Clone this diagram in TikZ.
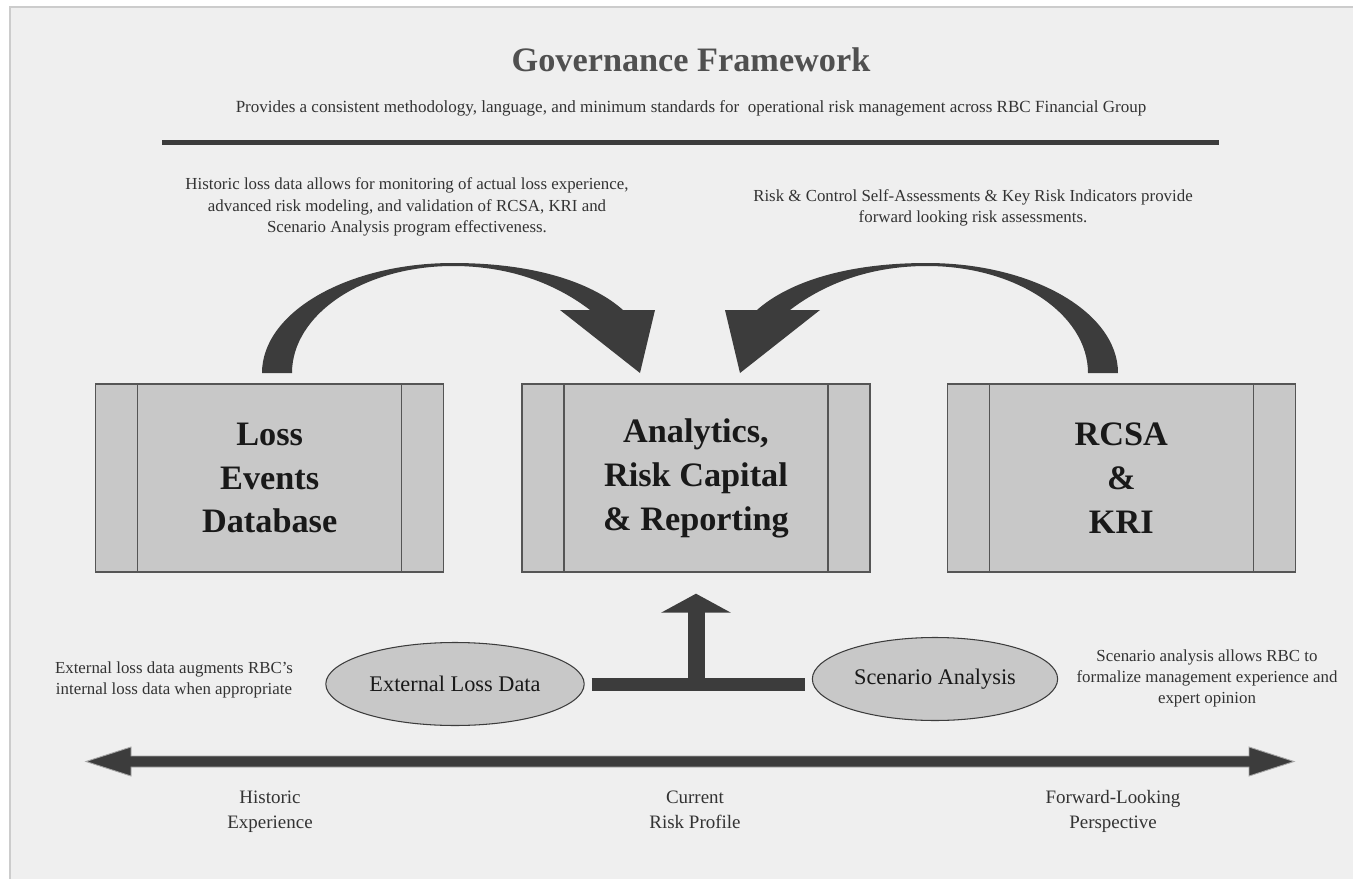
\documentclass[tikz,border=0pt]{standalone}
\usepackage{fontspec}
\setmainfont{Liberation Serif}
\usetikzlibrary{positioning,shapes.geometric,arrows.meta}

\definecolor{bggray}{HTML}{EFEFEF}
\definecolor{framegray}{HTML}{CCCCCC}
\definecolor{boxgray}{HTML}{C8C8C8}
\definecolor{edgegray}{HTML}{555555}
\definecolor{darkfill}{HTML}{3C3C3C}
\definecolor{textgray}{HTML}{333333}

\begin{document}
\begin{tikzpicture}[x=0.02cm, y=-0.02cm,
    block/.style={
        draw=edgegray,
        line width=0.8pt,
        fill=boxgray,
        minimum width=6.96cm,
        minimum height=3.76cm,
        inner sep=0pt,
        align=center,
        text=black!90,
        font=\bfseries\fontsize{19.5}{25}\selectfont,
        path picture={
            \draw[edgegray, line width=0.8pt]
            ([xshift=0.84cm]path picture bounding box.north west) -- ([xshift=0.84cm]path picture bounding box.south west)
            ([xshift=-0.84cm]path picture bounding box.north east) -- ([xshift=-0.84cm]path picture bounding box.south east);
        }
    },
    oval/.style={
        draw=darkfill,
        ellipse,
        fill=boxgray,
        line width=0.6pt,
        minimum width=4.82cm,
        minimum height=1.66cm,
        text=black!90,
        font=\fontsize{12.7}{15}\selectfont
    },
    note/.style={
        align=center,
        inner sep=0pt,
        text=textgray,
        font=\fontsize{9.6}{12.2}\selectfont
    },
    scale label/.style={
        note,
        font=\fontsize{10.8}{14.2}\selectfont
    }
]
        \useasboundingbox (0,0) rectangle (1353,879);
        \fill[white] (0,0) rectangle (1353,879);
        \fill[bggray] (10,7) rectangle (1353,879);
        \draw[framegray, line width=1.2pt] (10,879) -- (10,7) -- (1353,7);

        \node[
            inner sep=0pt,
            text=darkfill!90,
            font=\bfseries\fontsize{19.5}{23}\selectfont
        ](title) at (691,60){Governance Framework};

        \node[
            note,
            font=\fontsize{9.7}{11}\selectfont
        ](sub) at (691,108.5){Provides a consistent methodology, language, and minimum standards for~ operational risk management across RBC Financial Group};

        \draw[darkfill, line width=0.1cm] (162,142.5) -- (1219,142.5);

        \node[note](histnote) at (407,207){Historic loss data allows for monitoring of actual loss experience,\\
            advanced risk modeling, and validation of RCSA, KRI and\\
            Scenario Analysis program effectiveness.};

        \node[note](rcsanote) at (973,208){Risk \& Control Self-Assessments \& Key Risk Indicators provide\\
            forward looking risk assessments.};

        \node[block](ana) at (696,478){Analytics,\\Risk Capital\\\& Reporting};
        \node[block, left=1.54cm of ana](loss){Loss\\Events\\Database};
        \node[block, right=1.52cm of ana](rcsa){RCSA\\\&\\KRI};

        \fill[darkfill] (262,373) .. controls (262,312) and (348,263) .. (453,263)
            .. controls (540,263) and (595,285) .. (623,310) -- (655,310) -- (640,373) -- (560,310) -- (590,310)
            .. controls (560,287) and (515,266) .. (453,266)
            .. controls (364,266) and (292,314) .. (292,373) -- cycle;

        \fill[darkfill] (1118,373) .. controls (1118,312) and (1032,263) .. (927,263)
            .. controls (840,263) and (785,285) .. (757,310) -- (725,310) -- (740,373) -- (820,310) -- (790,310)
            .. controls (820,287) and (865,266) .. (927,266)
            .. controls (1016,266) and (1088,314) .. (1088,373) -- cycle;

        \node[oval](ext) at (455,684){External Loss Data};
        \node[oval](scen) at (935,679){Scenario Analysis};

        \draw[darkfill, line width=0.26cm] ([xshift=0.14cm]ext.east) -- ([xshift=-0.14cm]scen.west |- ext.east);
        \draw[darkfill, line width=0.34cm, shorten >=0.42cm, -{Triangle[width=1.38cm, length=0.38cm]}]
            (ana.south |- ext.east) -- (ana.south);

        \node[note](extnote) at (174,680){External loss data augments RBC’s\\
            internal loss data when appropriate};
        \node[note](scennote) at (1207,678.5){Scenario analysis allows RBC to\\
            formalize management experience and\\
            expert opinion};

        \filldraw[fill=darkfill, draw=gray!70, line width=0.5pt]
            (86,761.5) -- (131,747) -- (131,756) -- (1249,756) -- (1249,747) -- (1294,761.5)
            -- (1249,776) -- (1249,767) -- (131,767) -- (131,776) -- cycle;

        \node[scale label](hist) at (270,811.5){Historic\\Experience};
        \node[scale label](curr) at (695,809.5){Current\\Risk Profile};
        \node[scale label](fwd) at (1113,811.5){Forward-Looking\\Perspective};
\end{tikzpicture}
\end{document}
